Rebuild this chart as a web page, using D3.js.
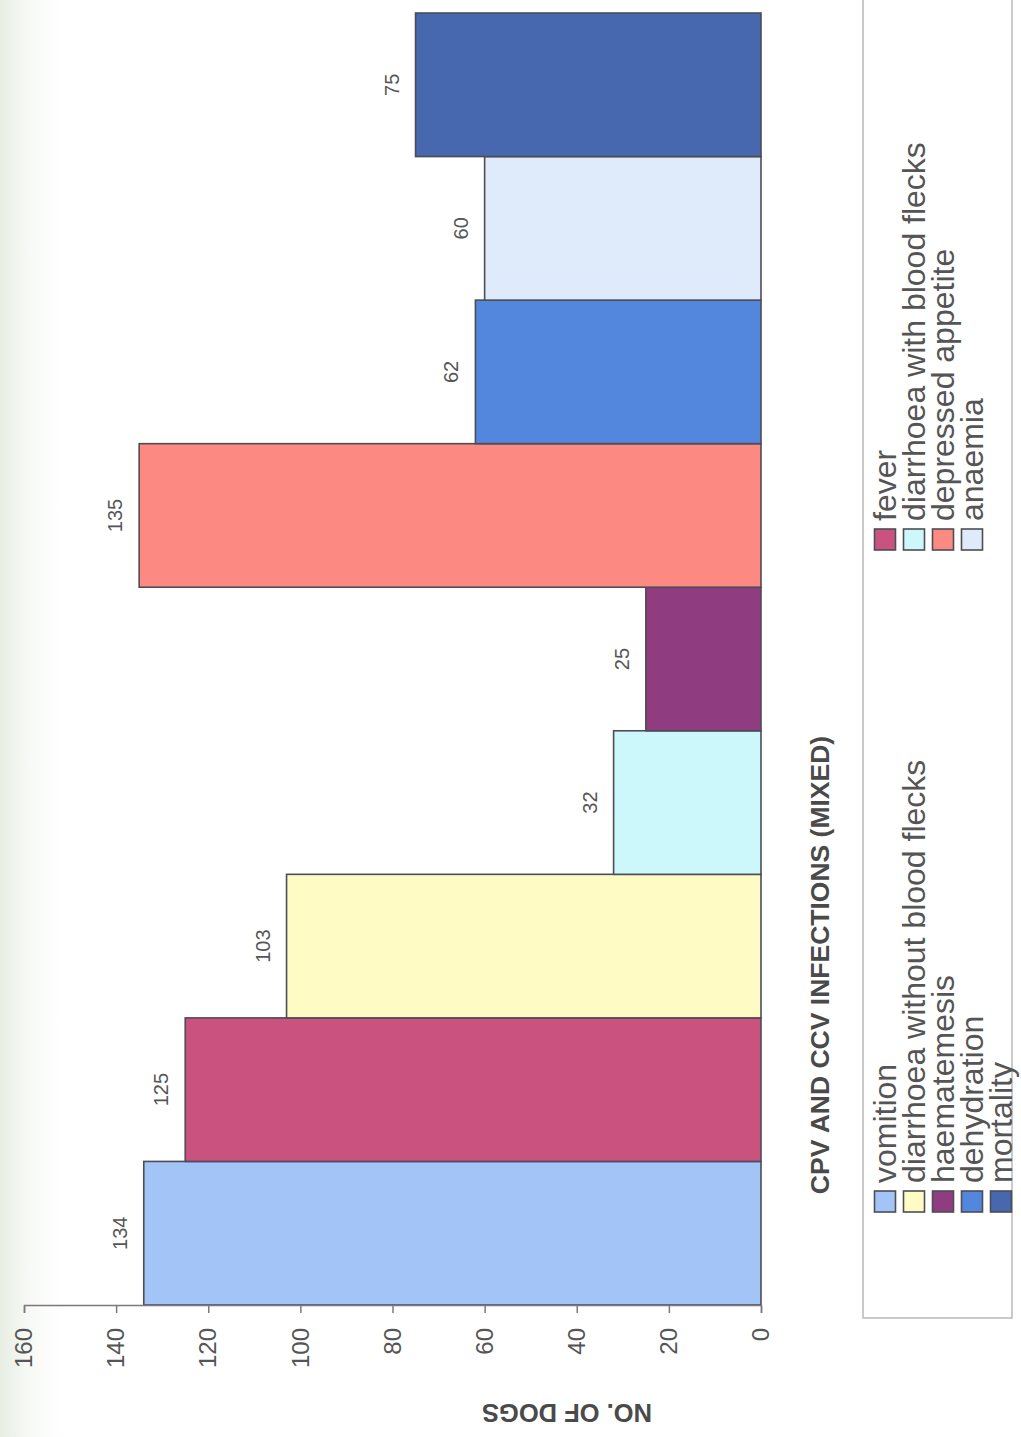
<!DOCTYPE html>
<html>
<head>
<meta charset="utf-8">
<script src="https://cdn.jsdelivr.net/npm/d3@7"></script>
<style>
  html, body { margin: 0; padding: 0; background: #fff; }
  svg { display: block; font-family: "Liberation Sans", Arial, sans-serif; }
</style>
</head>
<body>
<svg id="chart" width="1021" height="1437"></svg>
<script>
// Clinical signs observed in dogs with mixed CPV + CCV infection
const categories = [
  "vomition", "fever", "diarrhoea without blood flecks", "diarrhoea with blood flecks",
  "haematemesis", "depressed appetite", "dehydration", "anaemia", "mortality"
];
const values = [134, 125, 103, 32, 25, 135, 62, 60, 75];
const colors = [
  "#a3c4f6", "#c9527e", "#fffbc4", "#cdf8fb", "#8f3c80",
  "#fc8a82", "#5386dd", "#dfebfb", "#4767ae"
];
const valueTicks = [0, 20, 40, 60, 80, 100, 120, 140, 160];
const chartTitle = "CPV AND CCV INFECTIONS (MIXED)";
const valueTitle = "NO. OF DOGS";

const W = 1021, H = 1437;
const svg = d3.select("#chart");

// faint paper tint along the left edge
const defs = svg.append("defs");
const grad = defs.append("linearGradient").attr("id", "edgeTint")
  .attr("x1", 0).attr("x2", 1).attr("y1", 0).attr("y2", 0);
grad.append("stop").attr("offset", 0).attr("stop-color", "#e6ede2");
grad.append("stop").attr("offset", 1).attr("stop-color", "#ffffff").attr("stop-opacity", 0);
svg.append("rect").attr("x", 0).attr("y", 0).attr("width", 70).attr("height", H)
  .attr("fill", "url(#edgeTint)");

// The whole page is laid out landscape and turned a quarter turn counter-clockwise.
const g = svg.append("g").attr("transform", `translate(0,${H}) rotate(-90)`);

const x = d3.scaleBand().domain(categories).range([132, 1424]).paddingInner(0).paddingOuter(0);
const y = d3.scaleLinear().domain([0, 160]).range([761, 24]);

// legend frame
g.append("rect")
  .attr("x", 119).attr("y", 863)
  .attr("width", 1340).attr("height", 149)
  .attr("fill", "#fff").attr("stroke", "#b9b9b9").attr("stroke-width", 1.5);

// bars
g.selectAll("rect.bar").data(values).join("rect")
  .attr("class", "bar")
  .attr("x", (d, i) => x(categories[i]))
  .attr("width", x.bandwidth())
  .attr("y", d => y(d))
  .attr("height", d => y(0) - y(d))
  .attr("fill", (d, i) => colors[i])
  .attr("stroke", "#4d4d55").attr("stroke-width", 1.6);

// value labels
g.selectAll("text.val").data(values).join("text")
  .attr("class", "val")
  .attr("x", (d, i) => x(categories[i]) + x.bandwidth() / 2)
  .attr("y", d => y(d) - 17)
  .attr("text-anchor", "middle")
  .attr("font-size", 20)
  .attr("fill", "#555")
  .text(d => d);

// value axis
const axis = g.append("g").attr("transform", "translate(131,0)")
  .call(d3.axisLeft(y).tickValues(valueTicks).tickSize(7).tickPadding(15));
axis.select(".domain").attr("stroke", "#7a7a7a").attr("stroke-width", 1.5);
axis.selectAll(".tick line").attr("stroke", "#7a7a7a").attr("stroke-width", 1.5);
axis.selectAll(".tick text")
  .attr("font-size", 24)
  .attr("font-family", "\"Liberation Sans\", Arial, sans-serif")
  .attr("fill", "#555");

// axis title
g.append("text")
  .attr("transform", "translate(33,567) rotate(-90)")
  .attr("text-anchor", "middle")
  .attr("font-size", 25.5).attr("font-weight", "bold")
  .attr("fill", "#4a4a4a")
  .text(valueTitle);

// chart title
g.append("text")
  .attr("x", 472).attr("y", 829)
  .attr("text-anchor", "middle")
  .attr("font-size", 26.5).attr("font-weight", "bold")
  .attr("fill", "#4a4a4a")
  .text(chartTitle);

// legend: two columns, filled row by row
const legendColX = [225, 887];
const legendRowY = 885, legendRowStep = 29;
const items = g.selectAll("g.leg").data(categories).join("g")
  .attr("class", "leg")
  .attr("transform", (d, i) => `translate(${legendColX[i % 2]},${legendRowY + Math.floor(i / 2) * legendRowStep})`);
items.append("rect")
  .attr("x", 0).attr("y", -10.5).attr("width", 21).attr("height", 21)
  .attr("fill", (d, i) => colors[i])
  .attr("stroke", "#4d4d55").attr("stroke-width", 1.6);
items.append("text")
  .attr("x", 29).attr("y", 11)
  .attr("font-size", 32)
  .attr("fill", "#555")
  .text(d => d);
</script>
</body>
</html>
